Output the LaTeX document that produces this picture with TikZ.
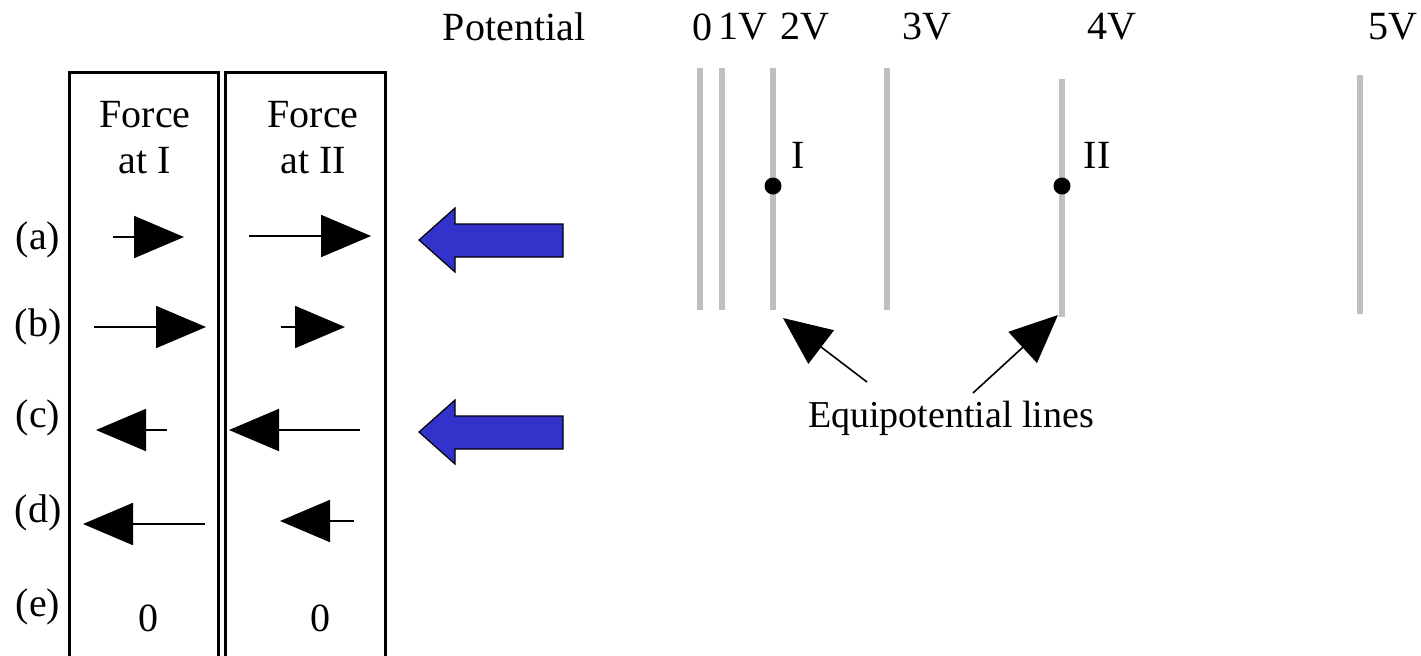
\documentclass[tikz,border=0pt]{standalone}
\usepackage{fontspec}
\setmainfont{Liberation Serif}
\usetikzlibrary{arrows.meta}
\definecolor{eqgray}{HTML}{BFBFBF}
\definecolor{bigblue}{HTML}{3333CC}
\tikzset{
  lbl/.style={font=\fontsize{20}{24}\selectfont, inner sep=0pt},
  boxline/.style={line width=1.5pt, black},
  force/.style={line width=1pt, -{Triangle[length=25pt,width=21pt]}},
  equi/.style={line width=3pt, eqgray},
  pointer/.style={line width=0.8pt, -{Triangle[length=24pt,width=21pt]}},
  bigarrow/.style={fill=bigblue, draw=black, line width=0.6pt},
  dot/.style={circle, fill=black, inner sep=0pt, minimum size=8.5pt}
}
\begin{document}
\begin{tikzpicture}[x=0.5pt, y=-0.5pt]
\useasboundingbox (0,0) rectangle (1421,655);
% boxes (open at the bottom edge)
\draw[boxline] (69,660) -- (69,72) -- (218,72) -- (218,660);
\draw[boxline] (225,660) -- (225,72) -- (385,72) -- (385,660);
% headers
\node[lbl, align=center] (h1) at (145,138) {Force\\[-1pt]at I};
\node[lbl, align=center] (h2) at (313,138) {Force\\[-1pt]at II};
% row labels
\node[lbl] (ra) at (38,240) {(a)};
\node[lbl] (rb) at (38,327) {(b)};
\node[lbl] (rc) at (38,418) {(c)};
\node[lbl] (rd) at (38,513) {(d)};
\node[lbl] (re) at (38,607) {(e)};
% force arrows
\coordinate (a1s) at (113,237); \coordinate (a1e) at (184,237);
\coordinate (a2s) at (249,236); \coordinate (a2e) at (371,236);
\coordinate (b1s) at (94,327);  \coordinate (b1e) at (206,327);
\coordinate (b2s) at (281,327); \coordinate (b2e) at (345,327);
\coordinate (c1s) at (167,430); \coordinate (c1e) at (96,430);
\coordinate (c2s) at (360,430); \coordinate (c2e) at (229,430);
\coordinate (d1s) at (205,524); \coordinate (d1e) at (83,524);
\coordinate (d2s) at (354,521); \coordinate (d2e) at (280,521);
\draw[force] (a1s) -- (a1e);
\draw[force] (a2s) -- (a2e);
\draw[force] (b1s) -- (b1e);
\draw[force] (b2s) -- (b2e);
\draw[force] (c1s) -- (c1e);
\draw[force] (c2s) -- (c2e);
\draw[force] (d1s) -- (d1e);
\draw[force] (d2s) -- (d2e);
\node[lbl] (z1) at (148,618) {0};
\node[lbl] (z2) at (320,618) {0};
% big blue arrows
\draw[bigarrow] (419,240) -- (455,208) -- (455,224) -- (563,224) -- (563,257) -- (455,257) -- (455,272) -- cycle;
\draw[bigarrow] (419,432) -- (455,400) -- (455,416) -- (563,416) -- (563,449) -- (455,449) -- (455,464) -- cycle;
% potential labels
\node[lbl] (pot) at (514,27) {Potential};
\node[lbl] (v0) at (702,27) {0};
\node[lbl] (v1) at (743,27) {1V};
\node[lbl] (v2) at (805,27) {2V};
\node[lbl] (v3) at (927,27) {3V};
\node[lbl] (v4) at (1112,27) {4V};
\node[lbl] (v5) at (1393,27) {5V};
% equipotential lines
\draw[equi] (700,68) -- (700,310);
\draw[equi] (722,68) -- (722,310);
\draw[equi] (773,68) -- (773,310);
\draw[equi] (887,68) -- (887,310);
\draw[equi] (1062,79) -- (1062,317);
\draw[equi] (1360,75) -- (1360,314);
% points
\node[dot] (p1) at (773,186) {};
\node[dot] (p2) at (1062,186) {};
\node[lbl] (l1) at (798,155) {I};
\node[lbl] (l2) at (1097,155) {II};
% label and pointers
\node[lbl, font=\fontsize{19}{23}\selectfont] (eq) at (951,418) {Equipotential lines};
\coordinate (tl) at (867,382); \coordinate (hl) at (783,318);
\coordinate (tr) at (973,393); \coordinate (hr) at (1058,315);
\draw[pointer] (tl) -- (hl);
\draw[pointer] (tr) -- (hr);
\end{tikzpicture}
\end{document}
